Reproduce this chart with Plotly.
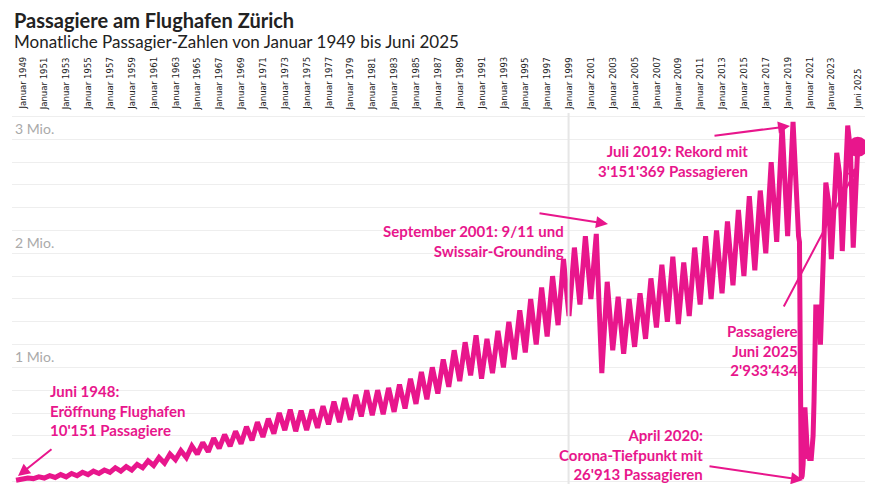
import plotly.graph_objects as go

# Jahres-Spitzen (Juli) und Tiefs (Januar), in Mio. Passagiere, 1949-2019
jahre = list(range(1949, 2020))
spitzen = [0.03, 0.04, 0.05, 0.06, 0.07, 0.08, 0.09, 0.10, 0.12, 0.13,
           0.15, 0.18, 0.21, 0.24, 0.27, 0.31, 0.34, 0.38, 0.41, 0.44,
           0.48, 0.52, 0.55, 0.60, 0.63, 0.62, 0.63, 0.66, 0.70, 0.73,
           0.76, 0.80, 0.80, 0.82, 0.85, 0.90, 0.96, 1.00, 1.07, 1.15,
           1.22, 1.28, 1.25, 1.32, 1.40, 1.50, 1.60, 1.70, 1.80, 1.95,
           2.05, 2.15, 2.17, 1.75, 1.62, 1.60, 1.65, 1.78, 1.90, 1.97,
           1.92, 2.05, 2.15, 2.20, 2.28, 2.38, 2.50, 2.55, 2.80, 3.12, 3.151369]
tiefs = [0.02, 0.025, 0.03, 0.035, 0.04, 0.05, 0.06, 0.07, 0.08, 0.09,
         0.10, 0.12, 0.14, 0.16, 0.19, 0.21, 0.24, 0.26, 0.29, 0.31,
         0.33, 0.36, 0.39, 0.42, 0.45, 0.44, 0.45, 0.47, 0.50, 0.52,
         0.54, 0.57, 0.58, 0.59, 0.61, 0.64, 0.68, 0.72, 0.77, 0.83,
         0.88, 0.93, 0.90, 0.95, 1.00, 1.07, 1.13, 1.20, 1.27, 1.37,
         1.45, 1.55, 1.60, 0.95, 1.15, 1.12, 1.18, 1.25, 1.35, 1.40,
         1.38, 1.45, 1.55, 1.60, 1.65, 1.72, 1.80, 1.85, 2.00, 2.10, 2.15]

# Corona-Zeit und danach, monatlich geschätzt
spaet_daten = ["2020-01-15", "2020-02-15", "2020-03-15", "2020-04-15", "2020-05-15",
               "2020-06-15", "2020-07-15", "2020-08-15", "2020-09-15", "2020-10-15",
               "2020-11-15", "2020-12-15", "2021-01-15", "2021-03-15", "2021-05-15",
               "2021-06-15", "2021-07-15", "2021-08-15", "2021-09-15", "2021-10-15",
               "2021-11-15", "2021-12-15", "2022-01-15", "2022-03-15", "2022-07-15",
               "2022-10-15", "2023-01-15", "2023-07-15", "2023-10-15", "2024-01-15",
               "2024-07-15", "2024-10-15", "2025-01-15", "2025-06-15"]
spaet_werte = [2.15, 2.10, 1.00, 0.026913, 0.05,
               0.15, 0.55, 0.65, 0.50, 0.40,
               0.20, 0.25, 0.20, 0.20, 0.40,
               0.70, 1.45, 1.55, 1.40, 1.55,
               1.30, 1.50, 1.20, 1.60, 2.62,
               2.45, 1.95, 2.88, 2.70, 2.02,
               3.12, 2.90, 2.05, 2.933434]

x = ["1948-06-15"]
y = [0.010151]
for j, s, t in zip(jahre, spitzen, tiefs):
    x += [f"{j}-01-15", f"{j}-07-15"]
    y += [t, s]
x += spaet_daten
y += spaet_werte

PINK = "#e8168c"
tickvals = [f"{j}-01-01" for j in range(1949, 2024, 2)] + ["2025-06-01"]
ticktext = [f"Januar {j}" for j in range(1949, 2024, 2)] + ["Juni 2025"]
yvals = [i * 0.2 for i in range(0, 17)]
ytext = ["" if i % 5 else ("" if i == 0 else f"{i // 5} Mio.") for i in range(0, 17)]

fig = go.Figure()
fig.add_scatter(x=x, y=y, mode="lines", line=dict(color=PINK, width=5), hoverinfo="skip")
fig.add_scatter(x=[spaet_daten[-1]], y=[spaet_werte[-1]], mode="markers",
                marker=dict(color=PINK, size=20))

fig.update_layout(
    width=873, height=484, showlegend=False,
    margin=dict(l=4, r=0, t=105, b=6),
    plot_bgcolor="white", paper_bgcolor="white",
    font=dict(family="Lato", color=PINK),
    xaxis=dict(type="date", range=["1948-02-01", "2027-08-01"],
               showticklabels=False, showgrid=False, zeroline=False, showline=False),
    yaxis=dict(range=[-0.04, 3.23], tickvals=yvals, ticktext=ytext,
               ticklabelposition="inside top", tickfont=dict(size=14, color="#aaa"),
               gridcolor="#eeeeee", zeroline=False, showline=False),
)
# Zeitachsen-Beschriftung oben, senkrecht
for tv, tt in zip(tickvals, ticktext):
    fig.add_annotation(text=tt, x=tv, xref="x", yref="paper", y=1.0, yshift=1,
                       xanchor="center", yanchor="bottom", textangle=-90, showarrow=False,
                       font=dict(family="DejaVu Sans Condensed", size=9.5, color="#222"))
fig.add_annotation(text="<b>Passagiere am Flughafen Zürich</b>", xref="paper", yref="paper",
                   x=0, y=(478 + 2) / 373, xanchor="left", yanchor="top", showarrow=False,
                   font=dict(size=20, color="#222"))
fig.add_annotation(text="Monatliche Passagier-Zahlen von Januar 1949 bis Juni 2025",
                   xref="paper", yref="paper", x=0, y=(478 - 21) / 373, xanchor="left",
                   yanchor="top", showarrow=False, font=dict(size=17, color="#222"))
fig.add_vline(x="1999-01-01", line=dict(color="#e6e6e6", width=2))

def note(text, px, py, align):
    # px/py: Position in Pixeln im Bild, umgerechnet in Papierkoordinaten
    fig.add_annotation(text=text, xref="paper", yref="paper",
                       x=(px - 4) / 869, y=(478 - py) / 373, xanchor=align, yanchor="middle",
                       align=align, showarrow=False,
                       font=dict(size=15, color=PINK, family="Lato"))

def pfeil(x0, y0, x1, y1):
    fig.add_annotation(text="", xref="paper", yref="paper",
                       x=(x1 - 4) / 869, y=(478 - y1) / 373,
                       ax=x0 - x1, ay=y0 - y1, axref="pixel", ayref="pixel",
                       showarrow=True, arrowhead=2, arrowsize=1.2, arrowwidth=2, arrowcolor=PINK)

note("<b>Juni 1948:<br>Eröffnung Flughafen<br>10'151 Passagiere</b>", 40, 402, "left")
pfeil(45, 440, 10, 468)
note("<b>September 2001: 9/11 und<br>Swissair-Grounding</b>", 558, 233, "right")
pfeil(530, 205, 600, 216)
note("<b>Juli 2019: Rekord mit<br>3'151'369 Passagieren</b>", 742, 153, "right")
pfeil(705, 128, 782, 118)
note("<b>Passagiere<br>Juni 2025<br>2'933'434</b>", 792, 342, "right")
pfeil(775, 300, 850, 158)
note("<b>April 2020:<br>Corona-Tiefpunkt mit<br>26'913 Passagieren</b>", 697, 446, "right")
pfeil(700, 458, 795, 472)

fig.write_html("out.html")
